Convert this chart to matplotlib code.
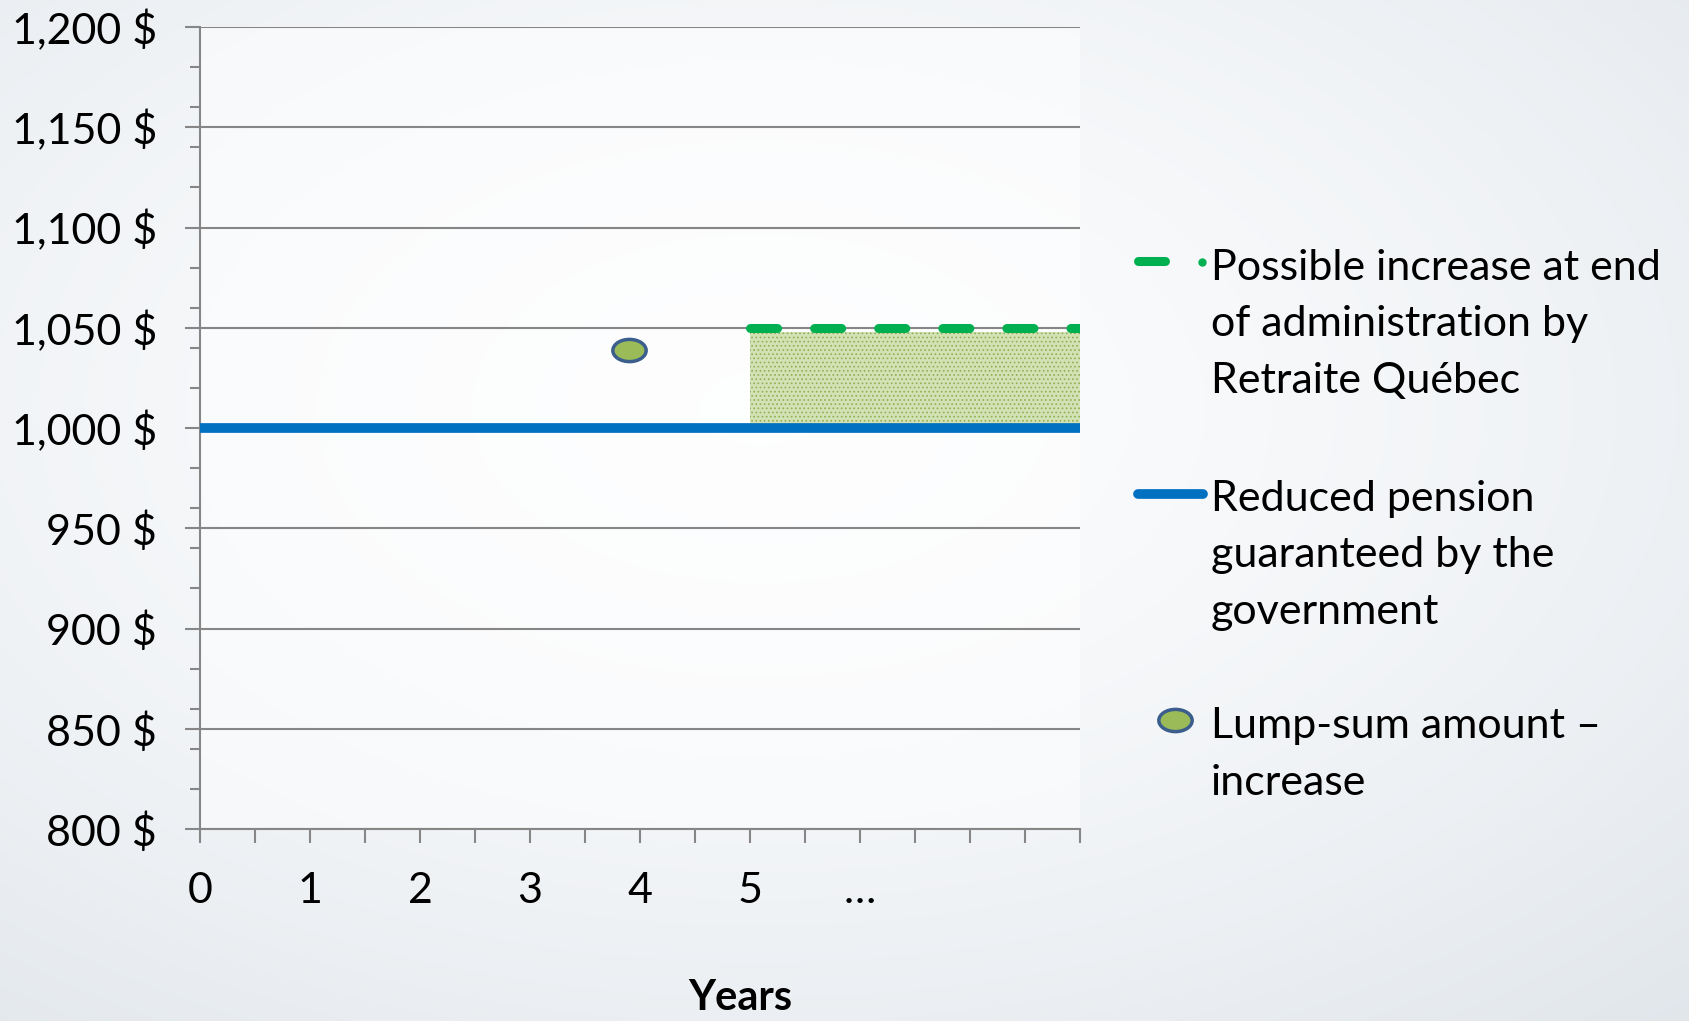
import numpy as np
import matplotlib.pyplot as plt
from matplotlib.lines import Line2D
from matplotlib.path import Path
import matplotlib.transforms as mtransforms

plt.rcParams['font.family'] = ['Lato', 'DejaVu Sans']
plt.rcParams['hatch.linewidth'] = 0.7

# Data
guaranteed_years = [0, 8]
guaranteed_pension = [1000, 1000]
increase_years = [5, 8]
increase_level = [1050, 1050]
increase_fill_top = [1048, 1048]
lump_year = [3.9]
lump_amount = [1039]

x_ticks = [0, 1, 2, 3, 4, 5, 6]
x_tick_labels = ['0', '1', '2', '3', '4', '5', '…']
y_ticks = [800, 850, 900, 950, 1000, 1050, 1100, 1150, 1200]

legend_labels = [
    'Possible increase at end\nof administration by\nRetraite Québec',
    'Reduced pension\nguaranteed by the\ngovernment',
    'Lump-sum amount –\nincrease',
]

green = '#00B050'
blue = '#0070C0'
grid_gray = '#868686'
W, H = 1690, 1021

# ellipse marker, wider than tall
ellipse = Path.unit_circle().transformed(mtransforms.Affine2D().scale(1.5, 1.0))

fig = plt.figure(figsize=(W / 100, H / 100), dpi=100)

# soft slide background
bg = fig.add_axes([0, 0, 1, 1], zorder=-10)
yy, xx = np.mgrid[0:H, 0:W]
d = np.sqrt(((xx / W - 0.45) / 0.8) ** 2 + ((yy / H - 0.4) / 0.8) ** 2)
t = np.clip(d, 0, 1) ** 1.5
inner = np.array([0.99, 0.993, 0.997])
outer = np.array([0.885, 0.905, 0.925])
img = inner[None, None, :] * (1 - t[..., None]) + outer[None, None, :] * t[..., None]
bg.imshow(img, aspect='auto', extent=[0, 1, 0, 1])
bg.axis('off')

ax = fig.add_axes([200 / W, 1 - 829 / H, 880 / W, 802 / H])
ax.set_facecolor((1, 1, 1, 0.5))

ax.fill_between(increase_years, guaranteed_pension[0], increase_fill_top,
                facecolor='#D3E2B4', edgecolor='#8FAF55', hatch='....',
                linewidth=0, zorder=2)
ax.plot(guaranteed_years, guaranteed_pension, color=blue, lw=7,
        solid_capstyle='butt', clip_on=False, zorder=3)
ax.plot(increase_years, increase_level, color=green, lw=6.5,
        dashes=(3.0, 4.1), dash_capstyle='round', zorder=4)
ax.plot(lump_year, lump_amount, ls='none', marker=ellipse, ms=24,
        mfc='#9BBB59', mec='#3B5E8C', mew=2.5, zorder=5)

ax.set_xlim(0, 8)
ax.set_ylim(800, 1200)

ax.set_xticks(x_ticks)
ax.set_xticklabels(x_tick_labels)
ax.set_xticks(np.arange(0, 8.01, 0.5), minor=True)
ax.set_yticks(y_ticks)
ax.set_yticklabels([f'{v:,} $' for v in y_ticks])
ax.set_yticks(np.arange(800, 1201, 20), minor=True)

ax.tick_params(axis='x', which='both', direction='out', length=10, width=1.5,
               color=grid_gray, labelsize=31, pad=21)
ax.tick_params(axis='y', which='major', direction='out', length=11, width=1.5,
               color=grid_gray, labelsize=31, pad=20)
ax.tick_params(axis='y', which='minor', direction='out', length=7, width=1.5,
               color=grid_gray)

ax.yaxis.grid(True, color=grid_gray, lw=1.5)
ax.set_axisbelow(True)
for s in ['top', 'right']:
    ax.spines[s].set_visible(False)
for s in ['left', 'bottom']:
    ax.spines[s].set_color(grid_gray)
    ax.spines[s].set_linewidth(1.5)

ax.set_xlabel('Years', fontsize=30, fontweight='bold', va='center')
ax.xaxis.set_label_coords((740 - 200) / 880, -(998 - 829) / 802)


# legend drawn by hand so the keys sit on the first line of each label
def fx(px):
    return px / W


def fy(py):
    return 1 - py / H


fig.add_artist(Line2D([fx(1138), fx(1165)], [fy(261), fy(261)], color=green,
                      lw=6.5, solid_capstyle='round'))
fig.add_artist(Line2D([fx(1202)], [fy(262)], marker='o', ms=5, color=green, ls='none'))
fig.add_artist(Line2D([fx(1138), fx(1203)], [fy(494), fy(494)], color=blue,
                      lw=7, solid_capstyle='round'))
fig.add_artist(Line2D([fx(1175)], [fy(720)], marker=ellipse, ms=24, ls='none',
                      mfc='#9BBB59', mec='#3B5E8C', mew=2.5))

# multi-line text with va='baseline' sits on the baseline of its last line
for label, base in zip(legend_labels, [393, 624, 795]):
    fig.text(fx(1211), fy(base), label, fontsize=31, va='baseline', ha='left',
             linespacing=1.6)

fig.savefig('out.png', dpi=100)
